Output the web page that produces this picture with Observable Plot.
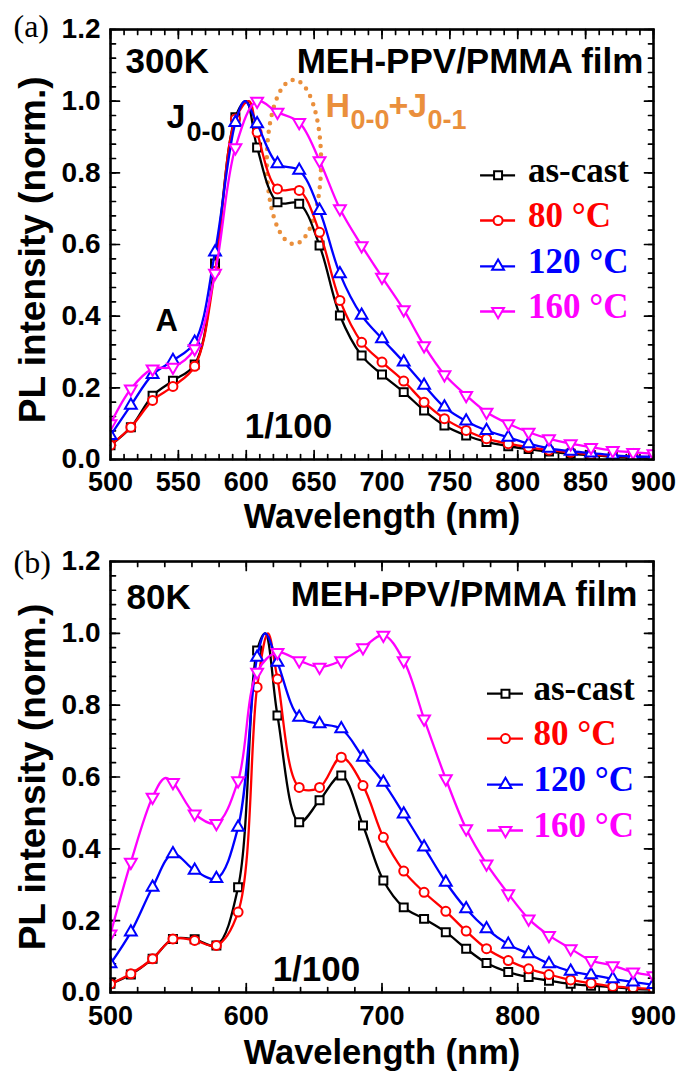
<!DOCTYPE html>
<html><head><meta charset="utf-8">
<script src="https://cdn.jsdelivr.net/npm/d3@7"></script>
<script src="https://cdn.jsdelivr.net/npm/@observablehq/plot@0.6"></script>
<style>
body{margin:0;background:#fff;}
#chart{width:678px;}
#chart svg{display:block;overflow:visible;}
</style></head><body><div id="chart"></div>
<script>
// ---------- DATA ----------
const seriesNames = ["as-cast", "80 \u00B0C", "120 \u00B0C", "160 \u00B0C"];
const seriesColors = ["#000000", "#ff0000", "#0000ff", "#ff00ff"];

// marker wavelengths (nm)
const wlA = [500,515,531,546,562,577,592,608,623,639,654,669,685,700,716,731,746,762,777,793,808,823,839,854,870,885,900];
const asCastA = [0.04,0.09,0.178,0.22,0.265,0.547,0.955,0.871,0.718,0.714,0.597,0.402,0.29,0.237,0.188,0.137,0.095,0.067,0.049,0.037,0.029,0.022,0.016,0.012,0.008,0.006,0.004];
const c80A    = [0.04,0.09,0.165,0.204,0.26,0.525,0.95,0.913,0.755,0.751,0.634,0.444,0.327,0.272,0.219,0.16,0.114,0.081,0.058,0.044,0.034,0.026,0.02,0.014,0.01,0.008,0.006];
const c120A   = [0.067,0.151,0.237,0.276,0.327,0.579,0.94,0.937,0.825,0.807,0.695,0.518,0.402,0.337,0.272,0.207,0.146,0.107,0.081,0.062,0.044,0.031,0.023,0.018,0.012,0.008,0.008];
const c160A   = [0.1,0.197,0.253,0.258,0.309,0.52,0.87,1.0,0.969,0.941,0.834,0.70,0.597,0.509,0.418,0.318,0.237,0.179,0.132,0.1,0.076,0.058,0.044,0.034,0.025,0.02,0.016];
// extra (unmarked) spectral points at the peaks, [wavelength, value]
const asCastPeakA = [[600, 1.0]];
const c80PeakA    = [[602, 1.0]];
const c120PeakA   = [[599, 1.0]];
const c160PeakA   = [];

const wlB = [500,515,531,546,562,578,594,608,623,639,654,670,686,701,716,731,747,762,777,793,808,823,839,854,870,885,900];
const asCastB = [0.024,0.05,0.094,0.149,0.148,0.131,0.293,0.952,0.771,0.474,0.535,0.604,0.465,0.312,0.237,0.205,0.168,0.122,0.082,0.057,0.043,0.033,0.024,0.019,0.015,0.01,0.008];
const c80B    = [0.024,0.052,0.094,0.149,0.145,0.131,0.224,0.85,0.873,0.571,0.571,0.655,0.576,0.432,0.338,0.279,0.226,0.171,0.122,0.089,0.066,0.05,0.035,0.026,0.017,0.013,0.01];
const c120B   = [0.08,0.168,0.293,0.386,0.34,0.317,0.46,0.933,0.919,0.766,0.748,0.734,0.655,0.585,0.497,0.405,0.307,0.233,0.177,0.134,0.108,0.08,0.059,0.049,0.038,0.029,0.022];
const c160B   = [0.163,0.363,0.544,0.585,0.497,0.471,0.59,0.892,0.947,0.924,0.906,0.924,0.96,0.995,0.924,0.762,0.595,0.456,0.358,0.275,0.205,0.159,0.122,0.089,0.075,0.057,0.047];
const asCastPeakB = [[614, 1.0]];
const c80PeakB    = [[616, 1.0]];
const c120PeakB   = [[614, 1.0]];
const c160PeakB   = [[540, 0.597]];

// ticks
const xTicksA = [500,550,600,650,700,750,800,850,900];
const xMinorA = d3.range(500, 901, 10);
const xTicksB = [500,600,700,800,900];
const xMinorB = d3.range(500, 901, 20);
const yTicks = [0,0.2,0.4,0.6,0.8,1.0,1.2];
const yMinor = d3.range(0, 1.2001, 0.04);

// annotation anchors (data units)
const ellipseA = {cx: 635.5, cy: 0.829, rx: 20, ry: 0.229};
const legendYA = [0.793, 0.667, 0.539, 0.413];
const legendXA = [772.6, 798.4, 807.5];
const legendYB = [0.832, 0.707, 0.579, 0.451];
const legendXB = [777.7, 804.2, 811.6];

// ---------- HELPERS ----------
const SANS = "'Liberation Sans', Arial, sans-serif";
const SERIF = "'Liberation Serif', 'Times New Roman', serif";
const ORANGE = "#ea8f3c";
const tickShape = {draw(ctx, l) { ctx.moveTo(0, 0); ctx.lineTo(0, -l); }};
const triDown = {draw(ctx, size) {
  const s3 = Math.sqrt(3); const y = -Math.sqrt(size / (s3 * 3));
  ctx.moveTo(0, -y * 2); ctx.lineTo(-s3 * y, y); ctx.lineTo(s3 * y, y); ctx.closePath();
}};
const symbols = ["square", "circle", "triangle", triDown];
const radii = [4.5, 4.5, 4.4, 4.4];

function frameTicks(xMajor, xMinor) {
  const sw = 1.7;
  const m = [];
  const v = (data, ch, anchor, rot, len) => Plot.vector(data, {[ch]: d => d, frameAnchor: anchor, rotate: rot, length: len, anchor: "start", shape: tickShape, stroke: "black", strokeWidth: sw});
  m.push(v(xMinor, "x", "bottom", 0, 5), v(xMajor, "x", "bottom", 0, 9));
  m.push(v(xMinor, "x", "top", 180, 5), v(xMajor, "x", "top", 180, 9));
  m.push(v(yMinor, "y", "left", 90, 5), v(yTicks, "y", "left", 90, 9));
  m.push(v(yMinor, "y", "right", -90, 5), v(yTicks, "y", "right", -90, 9));
  return m;
}

function seriesMarks(wl, vals, peaks) {
  const m = [];
  vals.forEach((arr, si) => {
    const pts = wl.map((w, i) => ({wl: w, v: arr[i]}));
    const linePts = pts.concat(peaks[si].map(([w, v]) => ({wl: w, v}))).sort((a, b) => a.wl - b.wl);
    m.push(Plot.line(linePts, {x: "wl", y: "v", stroke: seriesColors[si], strokeWidth: 2.3, curve: "catmull-rom", clip: true}));
    m.push(Plot.dot(pts, {x: "wl", y: "v", symbol: symbols[si], r: radii[si], stroke: seriesColors[si], fill: "white", strokeWidth: 2, clip: true}));
  });
  return m;
}

function legendMarks(ys, xs) {
  const m = [];
  ys.forEach((y, si) => {
    m.push(Plot.ruleY([y], {x1: xs[0], x2: xs[1], stroke: seriesColors[si], strokeWidth: 2.3}));
    m.push(Plot.dot([y], {x: (xs[0] + xs[1]) / 2, y: d => d, symbol: symbols[si], r: radii[si], stroke: seriesColors[si], fill: "white", strokeWidth: 2}));
    m.push(Plot.text([seriesNames[si]], {x: xs[2], y: y - 0.019, textAnchor: "start", lineAnchor: "bottom", fill: seriesColors[si], fontFamily: SERIF, fontWeight: "bold", fontSize: 35}));
  });
  return m;
}

function ellipseMark(e) {
  return (index, scales) => {
    const el = document.createElementNS("http://www.w3.org/2000/svg", "ellipse");
    const cx = scales.x(e.cx), cy = scales.y(e.cy);
    el.setAttribute("cx", cx); el.setAttribute("cy", cy);
    el.setAttribute("rx", Math.abs(scales.x(e.cx + e.rx) - cx));
    el.setAttribute("ry", Math.abs(cy - scales.y(e.cy + e.ry)));
    el.setAttribute("fill", "none"); el.setAttribute("stroke", ORANGE);
    el.setAttribute("stroke-width", 4.5); el.setAttribute("stroke-dasharray", "0 8.5");
    el.setAttribute("stroke-linecap", "round");
    return el;
  };
}

const txt = (s, o) => Plot.text([s], {fontFamily: SANS, fontWeight: "bold", lineAnchor: "bottom", ...o});

function commonAxes(xMajor, pad, titleDy, yTitle) {
  return [
    Plot.axisX(xMajor, {tickSize: 0, tickPadding: pad, fontSize: 27, fontWeight: "bold", fontFamily: SANS, label: null, tickFormat: d => d}),
    Plot.axisY(yTicks, {tickSize: 0, tickPadding: 10, fontSize: 28, fontWeight: "bold", fontFamily: SANS, label: null, tickFormat: d3.format(".1f")}),
    Plot.text(["Wavelength (nm)"], {frameAnchor: "bottom", dy: titleDy, lineAnchor: "bottom", fontSize: 34.5, fontWeight: "bold", fontFamily: SANS}),
    Plot.text(["PL intensity (norm.)"], {x: 443.3, y: yTitle, rotate: -90, fontSize: 37, fontWeight: "bold", fontFamily: SANS}),
    Plot.frame({stroke: "black", strokeWidth: 2.6})
  ];
}

// ---------- PANEL (a) ----------
const plotA = Plot.plot({
  width: 678, height: 530,
  marginLeft: 110, marginRight: 25, marginTop: 29, marginBottom: 71,
  x: {domain: [500, 900]}, y: {domain: [0, 1.2]},
  style: {fontFamily: SANS, background: "white", color: "black"},
  marks: [
    ...frameTicks(xTicksA, xMinorA),
    ellipseMark(ellipseA),
    ...seriesMarks(wlA, [asCastA, c80A, c120A, c160A], [asCastPeakA, c80PeakA, c120PeakA, c160PeakA]),
    ...commonAxes(xTicksA, 12, 68, 0.585),
    Plot.text(["(a)"], {frameAnchor: "top-left", dx: -97, dy: 7, textAnchor: "start", lineAnchor: "bottom", fontFamily: SERIF, fontSize: 32}),
    txt("300K", {x: 511, y: 1.08, textAnchor: "start", fontSize: 35}),
    txt("MEH-PPV/PMMA film", {x: 892.6, y: 1.08, textAnchor: "end", fontSize: 35}),
    txt("J", {x: 541.3, y: 0.924, textAnchor: "start", fontSize: 34}),
    txt("0-0", {x: 556, y: 0.89, textAnchor: "start", fontSize: 27}),
    txt("H", {x: 658.4, y: 0.957, textAnchor: "start", fontSize: 34, fill: ORANGE}),
    txt("0-0", {x: 676.8, y: 0.921, textAnchor: "start", fontSize: 27, fill: ORANGE}),
    txt("+J", {x: 704.8, y: 0.957, textAnchor: "start", fontSize: 34, fill: ORANGE}),
    txt("0-1", {x: 733.5, y: 0.921, textAnchor: "start", fontSize: 27, fill: ORANGE}),
    txt("A", {x: 533.1, y: 0.36, textAnchor: "start", fontSize: 31}),
    txt("1/100", {x: 631.1, y: 0.059, textAnchor: "middle", fontSize: 35}),
    ...legendMarks(legendYA, legendXA)
  ]
});

// ---------- PANEL (b) ----------
const plotB = Plot.plot({
  width: 678, height: 542,
  marginLeft: 110, marginRight: 25, marginTop: 31, marginBottom: 80,
  x: {domain: [500, 900]}, y: {domain: [0, 1.2]},
  style: {fontFamily: SANS, background: "white", color: "black"},
  marks: [
    ...frameTicks(xTicksB, xMinorB),
    ...seriesMarks(wlB, [asCastB, c80B, c120B, c160B], [asCastPeakB, c80PeakB, c120PeakB, c160PeakB]),
    ...commonAxes(xTicksB, 13, 71, 0.6),
    Plot.text(["(b)"], {frameAnchor: "top-left", dx: -97, dy: 11, textAnchor: "start", lineAnchor: "bottom", fontFamily: SERIF, fontSize: 32}),
    txt("80K", {x: 511.8, y: 1.069, textAnchor: "start", fontSize: 35}),
    txt("MEH-PPV/PMMA film", {x: 888.2, y: 1.077, textAnchor: "end", fontSize: 35}),
    txt("1/100", {x: 651.7, y: 0.033, textAnchor: "middle", fontSize: 35}),
    ...legendMarks(legendYB, legendXB)
  ]
});

document.getElementById("chart").append(plotA, plotB);
</script></body></html>
